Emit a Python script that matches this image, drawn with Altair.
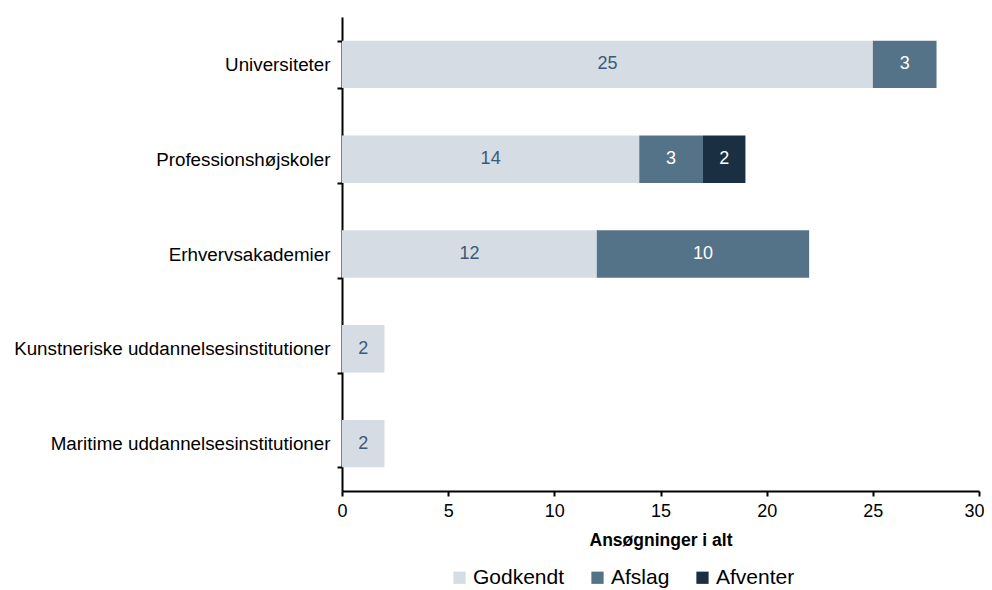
import altair as alt
import pandas as pd

categories = ["Universiteter", "Professionshøjskoler", "Erhvervsakademier",
              "Kunstneriske uddannelsesinstitutioner", "Maritime uddannelsesinstitutioner"]
statuses = ["Godkendt", "Afslag", "Afventer"]
godkendt = [25, 14, 12, 2, 2]
afslag = [3, 3, 10, 0, 0]
afventer = [0, 2, 0, 0, 0]
colors = ["#d5dce3", "#547288", "#1a2f42"]
label_colors = ["#3c5a78", "#ffffff", "#ffffff"]

rows = []
for i, c in enumerate(categories):
    for j, (s, vals) in enumerate(zip(statuses, [godkendt, afslag, afventer])):
        if vals[i] > 0:
            rows.append({"kategori": c, "status": s, "antal": vals[i], "ord": j,
                         "lc": label_colors[j]})
df = pd.DataFrame(rows)

FONT = "Liberation Sans"

base = alt.Chart(df).transform_stack(
    stack="antal", groupby=["kategori"], as_=["x0", "x1"],
    sort=[alt.SortField("ord", order="ascending")]
).transform_calculate(mid="(datum.x0 + datum.x1) / 2")

y = alt.Y("kategori:N", sort=categories, title=None,
          scale=alt.Scale(paddingInner=0.5, paddingOuter=0.25),
          axis=alt.Axis(tickBand="extent", labelFontSize=18.8, labelColor="#000000",
                        labelPadding=7, tickSize=5, domainColor="#000000",
                        tickColor="#000000", domainWidth=2, tickWidth=2,
                        labelFont=FONT, labelLimit=400))

bars = base.mark_bar().encode(
    x=alt.X("x0:Q", title="Ansøgninger  i alt",
            scale=alt.Scale(domain=[0, 30]),
            axis=alt.Axis(values=[0, 5, 10, 15, 20, 25, 30], grid=False,
                          labelFlush=True, labelFlushOffset=5,
                          labelFontSize=18, labelColor="#000000", tickSize=5,
                          domainColor="#000000", tickColor="#000000",
                          domainWidth=2, tickWidth=2, labelFont=FONT,
                          titleFont=FONT, titleFontSize=17.5,
                          titleFontWeight="bold", titleColor="#000000",
                          titlePadding=11, labelPadding=6)),
    x2="x1:Q",
    y=y,
    color=alt.Color("status:N", scale=alt.Scale(domain=statuses, range=colors),
                    legend=alt.Legend(title=None, orient="none", legendX=107, legendY=550,
                                      direction="horizontal",
                                      symbolType="square", symbolSize=150,
                                      symbolStrokeWidth=0, labelFontSize=21,
                                      labelFont=FONT, labelColor="#000000",
                                      columnPadding=22, labelOffset=3)),
)

texts = base.mark_text(fontSize=18, font=FONT).encode(
    x="mid:Q",
    y=alt.Y("kategori:N", sort=categories),
    text="antal:Q",
    color=alt.Color("lc:N", scale=None),
)

chart = alt.layer(bars, texts).properties(
    width=637, height=474,
    padding={"left": 5, "top": 0, "right": 0, "bottom": 0}
).configure_view(stroke=None).configure_axis(grid=False)

chart.save("out.html", embed_options={"renderer": "svg", "actions": False})
